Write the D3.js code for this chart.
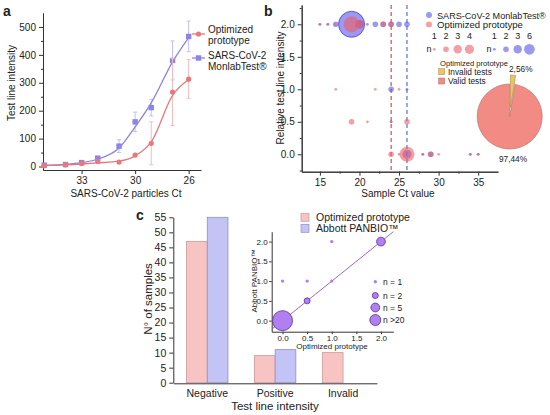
<!DOCTYPE html>
<html>
<head>
<meta charset="utf-8">
<script src="https://cdn.jsdelivr.net/npm/d3@7"></script>
<style>
body{margin:0;background:#fff}
text{font-family:"Liberation Sans",Arial,sans-serif;fill:#222}
</style>
</head>
<body>
<svg width="550" height="415"></svg>
<script>
// ---- panel a : dilution series (relative particle conc.) ----
var particleConc = [2, 5, 10, 20, 50, 100, 200, 500, 1000];
var ctTicks = [10, 100, 1000];
var ctLabels = ["33", "30", "26"];
var protoMean = [3, 6, 11, 18, 16, 41, 83, 267, 313];
var protoErr = [3, 3, 4, 5, 4, 6, 77, 120, 70];
var protoFit = [4, 6, 9, 13, 19, 38, 88, 255, 312];
var monlabMean = [5, 7, 14, 30, 73, 160, 211, 380, 466];
var monlabErr = [3, 3, 4, 5, 23, 35, 30, 70, 55];
var monlabFit = [5, 8, 14, 26, 66, 142, 228, 375, 462];

// ---- panel b : bubble plot ----
var monlabCt  = [15, 16, 17, 19, 20, 21, 22, 23, 24, 25, 26, 24, 26, 24, 26, 28, 29, 34, 35];
var monlabInt = [2, 2, 2, 2, 2, 2, 2, 2, 2, 2, 2, 1, 1, 0.5, 0, 0, 0, 0, 0];
var monlabN   = [1, 1, 2, 24, 3, 1, 2, 2, 2, 2, 2, 2, 1, 1, 4, 1, 2, 1, 1];
var protoCt  = [15, 16, 17, 19, 20, 23, 24, 17, 22, 25, 19, 21, 24, 26, 24, 25, 26, 28, 29, 30, 34, 35];
var protoInt = [2, 2, 2, 2, 2, 2, 2, 1, 1, 1, 0.5, 0.5, 0.5, 0.5, 0, 0, 0, 0, 0, 0, 0, 0];
var protoN   = [1, 1, 1, 12, 3, 2, 2, 1, 1, 1, 2, 1, 1, 2, 2, 1, 11, 1, 2, 1, 1, 1];
var cutoffCt = [24, 26];
var protoLegendN = [1, 2, 3, 4];
var monlabLegendN = [1, 2, 3, 6];
var pieLabels = ["Invalid tests", "Valid tests"];
var pieValues = [2.56, 97.44];

// ---- panel c : bars + inset ----
var categories = ["Negative", "Positive", "Invalid"];
var protoCounts = [47, 9, 10];
var abbottCounts = [55, 11, 0];
var insetProto  = [0, 0, 0.5, 0.5, 1, 1, 2];
var insetAbbott = [0, 1, 1, 0.5, 1, 2, 2];
var insetN      = [46, 1, 1, 2, 1, 1, 5];
var insetLegendN = [1, 2, 5, 20];
var insetLegendLabels = ["n = 1", "n = 2", "n = 5", "n >20"];

var RED = "#e8787a", BLUE = "#8c84e8";
var svg = d3.select("svg");

function panelLabel(t, x, y) {
    svg.append("text").attr("x", x).attr("y", y).text(t)
        .style("font-size", "14px").style("font-weight", "bold");
}
function styleAxis(g, fs) {
    g.selectAll("path,line").attr("stroke", "#333");
    g.selectAll("text").style("font-size", fs + "px").attr("fill", "#222");
}

// ================= panel a =================
panelLabel("a", 3, 16);
var xa = d3.scaleLog().domain([1.9, 1700]).range([43, 201]);
var ya = d3.scaleLinear().domain([-12.5, 550]).range([170, 13]);
var ga = svg.append("g");

styleAxis(ga.append("g").attr("transform", "translate(43,0)")
    .call(d3.axisLeft(ya).tickValues([0, 100, 200, 300, 400, 500]).tickFormat(d3.format("d")).tickSize(4).tickSizeOuter(0)), 10);
styleAxis(ga.append("g").attr("transform", "translate(43,0)")
    .call(d3.axisLeft(ya).tickValues([50, 150, 250, 350, 450]).tickFormat("").tickSize(2).tickSizeOuter(0)), 10);
styleAxis(ga.append("g").attr("transform", "translate(0,170)")
    .call(d3.axisBottom(xa).tickValues(ctTicks).tickFormat(function(d, i) { return ctLabels[i]; }).tickSize(4).tickSizeOuter(0)), 10);

ga.append("text").attr("transform", "translate(15,83) rotate(-90)").attr("text-anchor", "middle")
    .style("font-size", "10px").text("Test line intensity");
ga.append("text").attr("x", 126).attr("y", 197).attr("text-anchor", "middle")
    .style("font-size", "10px").text("SARS-CoV-2 particles Ct");

function drawSeriesA(mean, err, fit, col, errCol, square) {
    var idx = d3.range(particleConc.length);
    var eb = ga.append("g").attr("stroke", errCol).attr("stroke-width", 1);
    idx.forEach(function(i) {
        var x = xa(particleConc[i]);
        eb.append("line").attr("x1", x).attr("x2", x).attr("y1", ya(mean[i] - err[i])).attr("y2", ya(mean[i] + err[i]));
        eb.append("line").attr("x1", x - 2).attr("x2", x + 2).attr("y1", ya(mean[i] - err[i])).attr("y2", ya(mean[i] - err[i]));
        eb.append("line").attr("x1", x - 2).attr("x2", x + 2).attr("y1", ya(mean[i] + err[i])).attr("y2", ya(mean[i] + err[i]));
    });
    ga.append("path").datum(idx)
        .attr("d", d3.line().x(function(i) { return xa(particleConc[i]); }).y(function(i) { return ya(fit[i]); }).curve(d3.curveMonotoneX))
        .attr("fill", "none").attr("stroke", col).attr("stroke-width", 1.3);
    if (square) {
        ga.selectAll(null).data(idx).enter().append("rect")
            .attr("x", function(i) { return xa(particleConc[i]) - 2.7; })
            .attr("y", function(i) { return ya(mean[i]) - 2.7; })
            .attr("width", 5.4).attr("height", 5.4).attr("fill", col);
    } else {
        ga.selectAll(null).data(idx).enter().append("circle")
            .attr("cx", function(i) { return xa(particleConc[i]); })
            .attr("cy", function(i) { return ya(mean[i]); })
            .attr("r", 2.6).attr("fill", col);
    }
}
drawSeriesA(monlabMean, monlabErr, monlabFit, BLUE, "#c2bff2", true);
drawSeriesA(protoMean, protoErr, protoFit, RED, "#f4bcbc", false);

// legend a
var la = ga.append("g");
la.append("line").attr("x1", 192).attr("x2", 205).attr("y1", 34).attr("y2", 34).attr("stroke", RED).attr("stroke-width", 1.3);
la.append("circle").attr("cx", 198.5).attr("cy", 34).attr("r", 2.6).attr("fill", RED);
la.append("line").attr("x1", 192).attr("x2", 205).attr("y1", 58).attr("y2", 58).attr("stroke", BLUE).attr("stroke-width", 1.3);
la.append("rect").attr("x", 195.8).attr("y", 55.3).attr("width", 5.4).attr("height", 5.4).attr("fill", BLUE);
[["Optimized", 32.5], ["prototype", 43.5], ["SARS-CoV-2", 58.5], ["MonlabTest®", 69.5]].forEach(function(t) {
    la.append("text").attr("x", 208).attr("y", t[1]).style("font-size", "10px").text(t[0]);
});

// ================= panel b =================
panelLabel("b", 264, 16);
var xb = d3.scaleLinear().domain([12.7, 37.5]).range([301.7, 498]);
var yb = d3.scaleLinear().domain([-0.268, 2.297]).range([171.7, 5]);
var rb = d3.scaleLinear().domain([1, 2, 3, 6, 24]).range([1.4, 2.8, 4.2, 5.4, 13]);
var gb = svg.append("g");

styleAxis(gb.append("g").attr("transform", "translate(301.7,0)")
    .call(d3.axisLeft(yb).tickValues([0, 0.5, 1, 1.5, 2]).tickFormat(d3.format(".1f")).tickSize(4).tickSizeOuter(0)), 10);
styleAxis(gb.append("g").attr("transform", "translate(301.7,0)")
    .call(d3.axisLeft(yb).tickValues([-0.25, 0.25, 0.75, 1.25, 1.75, 2.25]).tickFormat("").tickSize(2).tickSizeOuter(0)), 10);
styleAxis(gb.append("g").attr("transform", "translate(0,171.7)")
    .call(d3.axisBottom(xb).tickValues([15, 20, 25, 30, 35]).tickSize(4).tickSizeOuter(0)), 10);
styleAxis(gb.append("g").attr("transform", "translate(0,171.7)")
    .call(d3.axisBottom(xb).tickValues([17.5, 22.5, 27.5, 32.5]).tickFormat("").tickSize(2).tickSizeOuter(0)), 10);

gb.append("text").attr("transform", "translate(284,88) rotate(-90)").attr("text-anchor", "middle")
    .style("font-size", "10px").text("Relative test line intensity");
gb.append("text").attr("x", 398).attr("y", 197).attr("text-anchor", "middle")
    .style("font-size", "10px").text("Sample Ct value");

gb.selectAll(null).data(cutoffCt).enter().append("line")
    .attr("x1", function(d) { return xb(d); }).attr("x2", function(d) { return xb(d); })
    .attr("y1", 5).attr("y2", 171.7)
    .attr("stroke", function(d, i) { return i === 0 ? "#d23a4e" : "#4466d4"; })
    .attr("stroke-width", 1.1).attr("stroke-dasharray", "4,3");

var BFILL = "rgba(90,85,235,0.6)", RFILL = "rgba(238,95,100,0.6)";
gb.selectAll(null).data(d3.range(monlabCt.length)).enter().append("circle")
    .attr("cx", function(i) { return xb(monlabCt[i]); })
    .attr("cy", function(i) { return yb(monlabInt[i]); })
    .attr("r", function(i) { return rb(monlabN[i]); })
    .attr("fill", BFILL)
    .attr("stroke", function(i) { return monlabN[i] > 6 ? "rgba(70,60,220,0.8)" : "none"; });
gb.selectAll(null).data(d3.range(protoCt.length)).enter().append("circle")
    .attr("cx", function(i) { return xb(protoCt[i]); })
    .attr("cy", function(i) { return yb(protoInt[i]); })
    .attr("r", function(i) { return rb(protoN[i]); })
    .attr("fill", RFILL);

// legend b
var lb = gb.append("g");
lb.append("circle").attr("cx", 429).attr("cy", 15).attr("r", 3).attr("fill", BFILL);
lb.append("circle").attr("cx", 429).attr("cy", 24.5).attr("r", 3).attr("fill", RFILL);
lb.append("text").attr("x", 437).attr("y", 18.5).style("font-size", "9.1px").text("SARS-CoV-2 MonlabTest®");
lb.append("text").attr("x", 437).attr("y", 28).style("font-size", "9.6px").text("Optimized prototype");

function sizeLegend(vals, x0, fill) {
    lb.append("text").attr("x", x0).attr("y", 52).attr("text-anchor", "middle").style("font-size", "9px").text("n");
    vals.forEach(function(n, i) {
        var cx = x0 + 5.3 + i * 11.7;
        lb.append("circle").attr("cx", cx).attr("cy", 49.3).attr("r", rb(n)).attr("fill", fill);
        lb.append("text").attr("x", cx).attr("y", 39).attr("text-anchor", "middle").style("font-size", "9px").text(n);
    });
}
sizeLegend(protoLegendN, 429, RFILL);
sizeLegend(monlabLegendN, 489, BFILL);

// pie
var pieCols = ["#e9c46a", "#f28b84"];
var pieStroke = ["#b08a30", "#b06b6b"];
lb.append("text").attr("x", 440).attr("y", 65.5).style("font-size", "7.6px").text("Optimized prototype");
pieLabels.forEach(function(t, i) {
    var y = 71.7 + i * 9.3;
    lb.append("rect").attr("x", 438.7).attr("y", y - 3).attr("width", 6).attr("height", 6)
        .attr("fill", pieCols[i]).attr("stroke", pieStroke[i]).attr("stroke-width", 0.5);
    lb.append("text").attr("x", 448).attr("y", y + 3).style("font-size", "8.3px").text(t);
});
var pc = [509.7, 116.5], pr = 32.5;
var arcs = d3.pie().sort(null)(pieValues);
var arcGen = d3.arc().innerRadius(0).outerRadius(pr);
var gp = gb.append("g").attr("transform", "translate(" + pc[0] + "," + pc[1] + ")");
gp.selectAll(null).data(arcs).enter().append("path")
    .attr("d", arcGen)
    .attr("transform", function(d, i) {
        if (i !== 0) return null;
        var a = (d.startAngle + d.endAngle) / 2, off = 9;
        return "translate(" + (Math.sin(a) * off) + "," + (-Math.cos(a) * off) + ")";
    })
    .attr("fill", function(d, i) { return pieCols[i]; })
    .attr("stroke", function(d, i) { return pieStroke[i]; }).attr("stroke-width", 0.6);
lb.append("text").attr("x", 509).attr("y", 72).style("font-size", "8.3px").text("2,56%");
lb.append("text").attr("x", 513).attr("y", 162).attr("text-anchor", "middle").style("font-size", "8.3px").text("97,44%");

// ================= panel c =================
panelLabel("c", 136, 220);
var yc = d3.scaleLinear().domain([0, 55]).range([382.7, 217.3]);
var xc = d3.scaleBand().domain(categories).range([173.3, 377]).paddingInner(0.39).paddingOuter(0.195);
var xc1 = d3.scaleBand().domain(["proto", "abbott"]).range([0, xc.bandwidth()]);
var gc = svg.append("g");

var barData = [];
categories.forEach(function(c, i) {
    barData.push({cat: c, key: "proto", v: protoCounts[i]});
    if (abbottCounts[i] > 0) barData.push({cat: c, key: "abbott", v: abbottCounts[i]});
});
gc.selectAll(null).data(barData).enter().append("rect")
    .attr("x", function(d) { return xc(d.cat) + xc1(d.key); })
    .attr("y", function(d) { return yc(d.v); })
    .attr("width", xc1.bandwidth())
    .attr("height", function(d) { return yc(0) - yc(d.v); })
    .attr("fill", function(d) { return d.key === "proto" ? "#f8c3c3" : "#c3c3f5"; })
    .attr("stroke", function(d) { return d.key === "proto" ? "#c99a9a" : "#8f8fc2"; })
    .attr("stroke-width", 0.8);

styleAxis(gc.append("g").attr("transform", "translate(173.3,0)")
    .call(d3.axisLeft(yc).tickValues(d3.range(0, 56, 5)).tickSize(4).tickSizeOuter(0)), 10.5);
styleAxis(gc.append("g").attr("transform", "translate(0,383.3)")
    .call(d3.axisBottom(xc).tickSize(0).tickPadding(6)), 10.5);

gc.append("text").attr("transform", "translate(152,299) rotate(-90)").attr("text-anchor", "middle")
    .style("font-size", "11.5px").text("N° of samples");
gc.append("text").attr("x", 275).attr("y", 410).attr("text-anchor", "middle")
    .style("font-size", "11.5px").text("Test line intensity");

[["Optimized prototype", "#f8c3c3", "#c99a9a"], ["Abbott PANBIO™", "#c3c3f5", "#8f8fc2"]].forEach(function(l, i) {
    var y = 217.3 + i * 11;
    gc.append("rect").attr("x", 301).attr("y", y - 4).attr("width", 8).attr("height", 8)
        .attr("fill", l[1]).attr("stroke", l[2]).attr("stroke-width", 0.7);
    gc.append("text").attr("x", 316).attr("y", y + 4).style("font-size", "10.5px").text(l[0]);
});

// inset
var xi = d3.scaleLinear().domain([-0.22, 2.25]).range([271.7, 393.3]);
var yi = d3.scaleLinear().domain([-0.28, 2.25]).range([331.7, 231.7]);
var ri = d3.scaleLinear().domain([1, 2, 5, 20, 46]).range([1.7, 3, 4.4, 5.5, 10]);
var gi = gc.append("g");
styleAxis(gi.append("g").attr("transform", "translate(271.7,0)")
    .call(d3.axisLeft(yi).tickValues([0, 0.5, 1, 1.5, 2]).tickFormat(d3.format(".1f")).tickSize(2.5).tickPadding(1.5).tickSizeOuter(0)), 8);
styleAxis(gi.append("g").attr("transform", "translate(0,331.7)")
    .call(d3.axisBottom(xi).tickValues([0, 0.5, 1, 1.5, 2]).tickFormat(d3.format(".1f")).tickSize(2.5).tickPadding(1).tickSizeOuter(0)), 8);
gi.append("text").attr("transform", "translate(257,281) rotate(-90)").attr("text-anchor", "middle")
    .style("font-size", "8px").text("Abbott PANBIO™");
gi.append("text").attr("x", 332).attr("y", 349).attr("text-anchor", "middle")
    .style("font-size", "8px").text("Optimized prototype");

var dLo = Math.max(xi.domain()[0], yi.domain()[0]), dHi = Math.min(xi.domain()[1], yi.domain()[1]);
gi.append("line").attr("x1", xi(dLo)).attr("y1", yi(dLo)).attr("x2", xi(dHi)).attr("y2", yi(dHi))
    .attr("stroke", "#9a55b8").attr("stroke-width", 0.9);

var IFILL = "#b27ff0", ISTROKE = "#5b2d96";
gi.selectAll(null).data(d3.range(insetN.length)).enter().append("circle")
    .attr("cx", function(i) { return xi(insetProto[i]); })
    .attr("cy", function(i) { return yi(insetAbbott[i]); })
    .attr("r", function(i) { return ri(insetN[i]); })
    .attr("fill", IFILL)
    .attr("stroke", function(i) { return insetN[i] > 1 ? ISTROKE : "none"; })
    .attr("stroke-width", 0.8);

var legY = [281.7, 295.5, 307.5, 320];
insetLegendN.forEach(function(n, i) {
    gi.append("circle").attr("cx", 375.3).attr("cy", legY[i]).attr("r", ri(n))
        .attr("fill", IFILL).attr("stroke", n > 1 ? ISTROKE : "none").attr("stroke-width", 0.8);
    gi.append("text").attr("x", 383).attr("y", legY[i] + 3).style("font-size", "8.5px").text(insetLegendLabels[i]);
});
</script>
</body>
</html>
